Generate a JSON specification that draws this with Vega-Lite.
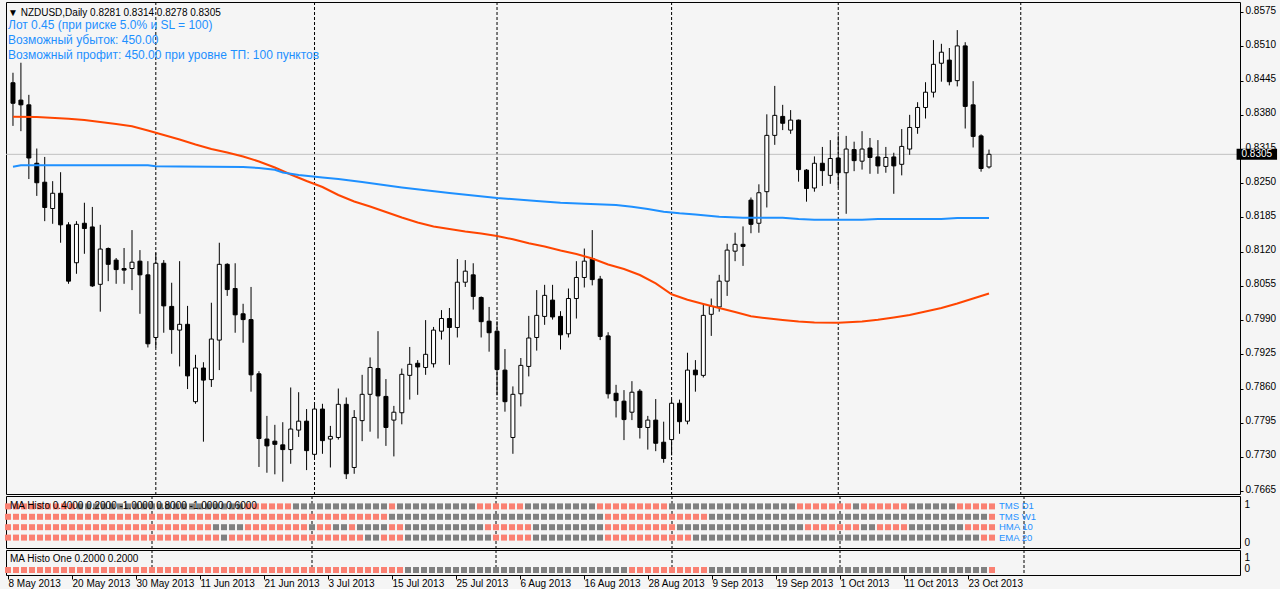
{
"$schema":"https://vega.github.io/schema/vega-lite/v6.json",
"background":"#f5f5f5",
"padding":{"left":4,"top":1,"right":0,"bottom":0},
"bounds":"flush",
"spacing":2,
"resolve":{"scale":{"color":"independent","fill":"independent"}},
"config":{
"view":{"stroke":"#000000","strokeWidth":1,"fill":"#f5f5f5"},
"axis":{"labelFont":"Liberation Sans","labelFontSize":10,"labelColor":"#000000","tickColor":"#000000","domain":false,"grid":false},
"title":{"font":"Liberation Sans","fontWeight":"normal","color":"#000000","fontSize":10,"anchor":"start","frame":"group"}
},
"datasets":{
"levels":[{"key":"d1","name":"TMS D1","level":0.8},{"key":"w1","name":"TMS W1","level":0.6},{"key":"hma","name":"HMA 10","level":0.4},{"key":"ema","name":"EMA 20","level":0.2},{"key":"one","name":"MA Histo One","level":0.2}],
"seps":[{"i":18,"date":"2013-06-03"},{"i":38,"date":"2013-07-01"},{"i":61,"date":"2013-08-01"},{"i":83,"date":"2013-09-02"},{"i":104,"date":"2013-10-01"},{"i":127,"date":"2013-11-01"}],
"ma":[
{"i":0,"s":"ma1","v":0.83765},{"i":3,"s":"ma1","v":0.83759},{"i":7,"s":"ma1","v":0.83727},{"i":9,"s":"ma1","v":0.83702},{"i":11,"s":"ma1","v":0.83664},{"i":13,"s":"ma1","v":0.83626},{"i":15,"s":"ma1","v":0.83582},{"i":17,"s":"ma1","v":0.83503},{"i":19,"s":"ma1","v":0.83417},{"i":21,"s":"ma1","v":0.83332},{"i":23,"s":"ma1","v":0.83237},{"i":25,"s":"ma1","v":0.83151},{"i":27,"s":"ma1","v":0.83085},{"i":29,"s":"ma1","v":0.83009},{"i":31,"s":"ma1","v":0.82914},{"i":33,"s":"ma1","v":0.828},{"i":35,"s":"ma1","v":0.82667},{"i":37,"s":"ma1","v":0.82543},{"i":39,"s":"ma1","v":0.82429},{"i":41,"s":"ma1","v":0.82277},{"i":43,"s":"ma1","v":0.82154},{"i":45,"s":"ma1","v":0.82059},{"i":47,"s":"ma1","v":0.81954},{"i":49,"s":"ma1","v":0.8185},{"i":51,"s":"ma1","v":0.81755},{"i":53,"s":"ma1","v":0.81679},{"i":55,"s":"ma1","v":0.81631},{"i":57,"s":"ma1","v":0.81584},{"i":59,"s":"ma1","v":0.81546},{"i":61,"s":"ma1","v":0.81498},{"i":63,"s":"ma1","v":0.81435},{"i":65,"s":"ma1","v":0.81359},{"i":67,"s":"ma1","v":0.81299},{"i":69,"s":"ma1","v":0.81223},{"i":71,"s":"ma1","v":0.81156},{"i":73,"s":"ma1","v":0.81071},{"i":75,"s":"ma1","v":0.80957},{"i":77,"s":"ma1","v":0.80871},{"i":79,"s":"ma1","v":0.80757},{"i":81,"s":"ma1","v":0.80596},{"i":83,"s":"ma1","v":0.8039},{"i":85,"s":"ma1","v":0.80288},{"i":87,"s":"ma1","v":0.80206},{"i":89,"s":"ma1","v":0.8013},{"i":91,"s":"ma1","v":0.80054},{"i":93,"s":"ma1","v":0.79972},{"i":95,"s":"ma1","v":0.79934},{"i":97,"s":"ma1","v":0.79902},{"i":99,"s":"ma1","v":0.79874},{"i":101,"s":"ma1","v":0.79855},{"i":104,"s":"ma1","v":0.79851},{"i":107,"s":"ma1","v":0.79874},{"i":109,"s":"ma1","v":0.79908},{"i":111,"s":"ma1","v":0.7995},{"i":113,"s":"ma1","v":0.79997},{"i":115,"s":"ma1","v":0.80064},{"i":117,"s":"ma1","v":0.8013},{"i":119,"s":"ma1","v":0.80216},{"i":121,"s":"ma1","v":0.80311},{"i":123,"s":"ma1","v":0.80406},
{"i":0,"s":"ma2","v":0.82815},{"i":1,"s":"ma2","v":0.82841},{"i":17,"s":"ma2","v":0.82841},{"i":18,"s":"ma2","v":0.82822},{"i":21,"s":"ma2","v":0.82819},{"i":29,"s":"ma2","v":0.82809},{"i":31,"s":"ma2","v":0.8279},{"i":33,"s":"ma2","v":0.82758},{"i":34,"s":"ma2","v":0.82705},{"i":36,"s":"ma2","v":0.82657},{"i":39,"s":"ma2","v":0.8261},{"i":41,"s":"ma2","v":0.82581},{"i":44,"s":"ma2","v":0.82524},{"i":49,"s":"ma2","v":0.8242},{"i":55,"s":"ma2","v":0.82315},{"i":61,"s":"ma2","v":0.8222},{"i":66,"s":"ma2","v":0.82163},{"i":69,"s":"ma2","v":0.82131},{"i":72,"s":"ma2","v":0.82112},{"i":76,"s":"ma2","v":0.82087},{"i":78,"s":"ma2","v":0.82055},{"i":80,"s":"ma2","v":0.82011},{"i":82,"s":"ma2","v":0.8196},{"i":84,"s":"ma2","v":0.81929},{"i":86,"s":"ma2","v":0.81907},{"i":89,"s":"ma2","v":0.81865},{"i":92,"s":"ma2","v":0.81846},{"i":97,"s":"ma2","v":0.81846},{"i":99,"s":"ma2","v":0.8182},{"i":101,"s":"ma2","v":0.81808},{"i":107,"s":"ma2","v":0.81808},{"i":109,"s":"ma2","v":0.8182},{"i":117,"s":"ma2","v":0.8182},{"i":119,"s":"ma2","v":0.8184},{"i":123,"s":"ma2","v":0.8184}
],
"bars":[
{"i":0,"date":"2013-05-08","open":0.8441,"high":0.8460,"low":0.8359,"close":0.8402,"d1":1,"w1":1,"hma":1,"ema":1,"one":1},
{"i":1,"date":"2013-05-09","open":0.8408,"high":0.8479,"low":0.8349,"close":0.8399,"d1":1,"w1":1,"hma":1,"ema":1,"one":1},
{"i":2,"date":"2013-05-10","open":0.8399,"high":0.8418,"low":0.8258,"close":0.8298,"d1":1,"w1":1,"hma":1,"ema":1,"one":1},
{"i":3,"date":"2013-05-13","open":0.8288,"high":0.8316,"low":0.8226,"close":0.8251,"d1":1,"w1":1,"hma":1,"ema":1,"one":1},
{"i":4,"date":"2013-05-14","open":0.8252,"high":0.8300,"low":0.8178,"close":0.8204,"d1":1,"w1":1,"hma":1,"ema":1,"one":1},
{"i":5,"date":"2013-05-15","open":0.8202,"high":0.8254,"low":0.8173,"close":0.8231,"d1":1,"w1":1,"hma":1,"ema":1,"one":1},
{"i":6,"date":"2013-05-16","open":0.8231,"high":0.8271,"low":0.8137,"close":0.8171,"d1":1,"w1":1,"hma":1,"ema":1,"one":1},
{"i":7,"date":"2013-05-17","open":0.8171,"high":0.8176,"low":0.8059,"close":0.8064,"d1":1,"w1":1,"hma":1,"ema":1,"one":1},
{"i":8,"date":"2013-05-20","open":0.8099,"high":0.8178,"low":0.8078,"close":0.8172,"d1":1,"w1":1,"hma":1,"ema":1,"one":1},
{"i":9,"date":"2013-05-21","open":0.8174,"high":0.8213,"low":0.8116,"close":0.8164,"d1":0,"w1":1,"hma":1,"ema":1,"one":1},
{"i":10,"date":"2013-05-22","open":0.8167,"high":0.8205,"low":0.8053,"close":0.8055,"d1":0,"w1":1,"hma":1,"ema":1,"one":1},
{"i":11,"date":"2013-05-23","open":0.8058,"high":0.8171,"low":0.8006,"close":0.8125,"d1":0,"w1":1,"hma":1,"ema":1,"one":1},
{"i":12,"date":"2013-05-24","open":0.8126,"high":0.8128,"low":0.8064,"close":0.8096,"d1":0,"w1":1,"hma":1,"ema":1,"one":1},
{"i":13,"date":"2013-05-27","open":0.8104,"high":0.8108,"low":0.8059,"close":0.8086,"d1":0,"w1":1,"hma":1,"ema":1,"one":1},
{"i":14,"date":"2013-05-28","open":0.8088,"high":0.8127,"low":0.8059,"close":0.8085,"d1":0,"w1":1,"hma":1,"ema":1,"one":1},
{"i":15,"date":"2013-05-29","open":0.8088,"high":0.8161,"low":0.8047,"close":0.8100,"d1":0,"w1":1,"hma":1,"ema":1,"one":1},
{"i":16,"date":"2013-05-30","open":0.8102,"high":0.8123,"low":0.8002,"close":0.8076,"d1":0,"w1":1,"hma":1,"ema":1,"one":1},
{"i":17,"date":"2013-05-31","open":0.8076,"high":0.8102,"low":0.7938,"close":0.7945,"d1":0,"w1":1,"hma":1,"ema":1,"one":1},
{"i":18,"date":"2013-06-03","open":0.7957,"high":0.8118,"low":0.7938,"close":0.8098,"d1":0,"w1":1,"hma":1,"ema":1,"one":1},
{"i":19,"date":"2013-06-04","open":0.8098,"high":0.8104,"low":0.7966,"close":0.8017,"d1":0,"w1":1,"hma":1,"ema":1,"one":1},
{"i":20,"date":"2013-06-05","open":0.8016,"high":0.8061,"low":0.7926,"close":0.7972,"d1":0,"w1":1,"hma":1,"ema":1,"one":1},
{"i":21,"date":"2013-06-06","open":0.7971,"high":0.8102,"low":0.7902,"close":0.7982,"d1":0,"w1":1,"hma":1,"ema":1,"one":1},
{"i":22,"date":"2013-06-07","open":0.7982,"high":0.8017,"low":0.7859,"close":0.7884,"d1":0,"w1":1,"hma":1,"ema":1,"one":1},
{"i":23,"date":"2013-06-10","open":0.7835,"high":0.7924,"low":0.7831,"close":0.7899,"d1":0,"w1":1,"hma":1,"ema":1,"one":1},
{"i":24,"date":"2013-06-11","open":0.7899,"high":0.7910,"low":0.7759,"close":0.7876,"d1":0,"w1":1,"hma":1,"ema":1,"one":1},
{"i":25,"date":"2013-06-12","open":0.7877,"high":0.8023,"low":0.7863,"close":0.7954,"d1":0,"w1":1,"hma":1,"ema":1,"one":1},
{"i":26,"date":"2013-06-13","open":0.7952,"high":0.8137,"low":0.7895,"close":0.8096,"d1":0,"w1":1,"hma":0,"ema":1,"one":1},
{"i":27,"date":"2013-06-14","open":0.8096,"high":0.8098,"low":0.8036,"close":0.8048,"d1":0,"w1":1,"hma":0,"ema":0,"one":1},
{"i":28,"date":"2013-06-17","open":0.8050,"high":0.8098,"low":0.7966,"close":0.8000,"d1":0,"w1":1,"hma":0,"ema":1,"one":1},
{"i":29,"date":"2013-06-18","open":0.8002,"high":0.8021,"low":0.7947,"close":0.7991,"d1":0,"w1":1,"hma":0,"ema":1,"one":1},
{"i":30,"date":"2013-06-19","open":0.7991,"high":0.8053,"low":0.7854,"close":0.7886,"d1":1,"w1":1,"hma":1,"ema":1,"one":1},
{"i":31,"date":"2013-06-20","open":0.7888,"high":0.7893,"low":0.7711,"close":0.7765,"d1":1,"w1":1,"hma":1,"ema":1,"one":1},
{"i":32,"date":"2013-06-21","open":0.7764,"high":0.7808,"low":0.7700,"close":0.7751,"d1":1,"w1":1,"hma":1,"ema":1,"one":1},
{"i":33,"date":"2013-06-24","open":0.7760,"high":0.7791,"low":0.7697,"close":0.7754,"d1":1,"w1":1,"hma":1,"ema":1,"one":1},
{"i":34,"date":"2013-06-25","open":0.7753,"high":0.7796,"low":0.7683,"close":0.7744,"d1":1,"w1":1,"hma":1,"ema":1,"one":1},
{"i":35,"date":"2013-06-26","open":0.7744,"high":0.7862,"low":0.7717,"close":0.7783,"d1":1,"w1":1,"hma":1,"ema":1,"one":1},
{"i":36,"date":"2013-06-27","open":0.7781,"high":0.7853,"low":0.7768,"close":0.7798,"d1":0,"w1":1,"hma":1,"ema":1,"one":1},
{"i":37,"date":"2013-06-28","open":0.7798,"high":0.7821,"low":0.7705,"close":0.7742,"d1":0,"w1":1,"hma":1,"ema":1,"one":1},
{"i":38,"date":"2013-07-01","open":0.7735,"high":0.7831,"low":0.7730,"close":0.7821,"d1":0,"w1":1,"hma":0,"ema":1,"one":1},
{"i":39,"date":"2013-07-02","open":0.7821,"high":0.7831,"low":0.7736,"close":0.7761,"d1":0,"w1":1,"hma":1,"ema":1,"one":1},
{"i":40,"date":"2013-07-03","open":0.7764,"high":0.7789,"low":0.7710,"close":0.7769,"d1":0,"w1":1,"hma":1,"ema":1,"one":1},
{"i":41,"date":"2013-07-04","open":0.7767,"high":0.7860,"low":0.7763,"close":0.7830,"d1":0,"w1":1,"hma":0,"ema":1,"one":1},
{"i":42,"date":"2013-07-05","open":0.7830,"high":0.7843,"low":0.7688,"close":0.7698,"d1":0,"w1":1,"hma":0,"ema":1,"one":1},
{"i":43,"date":"2013-07-08","open":0.7710,"high":0.7819,"low":0.7698,"close":0.7805,"d1":0,"w1":1,"hma":1,"ema":1,"one":1},
{"i":44,"date":"2013-07-09","open":0.7799,"high":0.7886,"low":0.7760,"close":0.7849,"d1":0,"w1":1,"hma":0,"ema":1,"one":1},
{"i":45,"date":"2013-07-10","open":0.7849,"high":0.7919,"low":0.7778,"close":0.7900,"d1":0,"w1":1,"hma":0,"ema":0,"one":1},
{"i":46,"date":"2013-07-11","open":0.7898,"high":0.7969,"low":0.7765,"close":0.7846,"d1":0,"w1":1,"hma":0,"ema":0,"one":1},
{"i":47,"date":"2013-07-12","open":0.7845,"high":0.7878,"low":0.7751,"close":0.7786,"d1":0,"w1":1,"hma":0,"ema":1,"one":1},
{"i":48,"date":"2013-07-15","open":0.7800,"high":0.7827,"low":0.7731,"close":0.7815,"d1":1,"w1":0,"hma":1,"ema":1,"one":1},
{"i":49,"date":"2013-07-16","open":0.7814,"high":0.7898,"low":0.7792,"close":0.7887,"d1":0,"w1":0,"hma":1,"ema":1,"one":1},
{"i":50,"date":"2013-07-17","open":0.7885,"high":0.7939,"low":0.7839,"close":0.7906,"d1":0,"w1":0,"hma":0,"ema":0,"one":0},
{"i":51,"date":"2013-07-18","open":0.7908,"high":0.7914,"low":0.7848,"close":0.7901,"d1":0,"w1":0,"hma":0,"ema":0,"one":0},
{"i":52,"date":"2013-07-19","open":0.7900,"high":0.7990,"low":0.7886,"close":0.7925,"d1":0,"w1":0,"hma":0,"ema":0,"one":0},
{"i":53,"date":"2013-07-22","open":0.7907,"high":0.7977,"low":0.7900,"close":0.7971,"d1":0,"w1":0,"hma":0,"ema":0,"one":0},
{"i":54,"date":"2013-07-23","open":0.7969,"high":0.8009,"low":0.7953,"close":0.7993,"d1":0,"w1":0,"hma":0,"ema":0,"one":0},
{"i":55,"date":"2013-07-24","open":0.7993,"high":0.8013,"low":0.7905,"close":0.7976,"d1":0,"w1":0,"hma":0,"ema":0,"one":0},
{"i":56,"date":"2013-07-25","open":0.7976,"high":0.8106,"low":0.7957,"close":0.8062,"d1":0,"w1":0,"hma":0,"ema":0,"one":0},
{"i":57,"date":"2013-07-26","open":0.8062,"high":0.8104,"low":0.8053,"close":0.8083,"d1":0,"w1":0,"hma":0,"ema":0,"one":0},
{"i":58,"date":"2013-07-29","open":0.8076,"high":0.8098,"low":0.8010,"close":0.8035,"d1":0,"w1":0,"hma":0,"ema":0,"one":0},
{"i":59,"date":"2013-07-30","open":0.8033,"high":0.8035,"low":0.7957,"close":0.7987,"d1":1,"w1":0,"hma":0,"ema":0,"one":0},
{"i":60,"date":"2013-07-31","open":0.7988,"high":0.8015,"low":0.7930,"close":0.7966,"d1":1,"w1":0,"hma":1,"ema":0,"one":0},
{"i":61,"date":"2013-08-01","open":0.7969,"high":0.7988,"low":0.7847,"close":0.7896,"d1":1,"w1":0,"hma":1,"ema":1,"one":0},
{"i":62,"date":"2013-08-02","open":0.7895,"high":0.7935,"low":0.7816,"close":0.7835,"d1":1,"w1":0,"hma":1,"ema":1,"one":0},
{"i":63,"date":"2013-08-05","open":0.7767,"high":0.7864,"low":0.7736,"close":0.7849,"d1":1,"w1":0,"hma":1,"ema":1,"one":0},
{"i":64,"date":"2013-08-06","open":0.7850,"high":0.7918,"low":0.7826,"close":0.7904,"d1":1,"w1":0,"hma":1,"ema":1,"one":0},
{"i":65,"date":"2013-08-07","open":0.7902,"high":0.7998,"low":0.7883,"close":0.7956,"d1":0,"w1":0,"hma":1,"ema":1,"one":0},
{"i":66,"date":"2013-08-08","open":0.7957,"high":0.8047,"low":0.7932,"close":0.7999,"d1":0,"w1":0,"hma":0,"ema":0,"one":0},
{"i":67,"date":"2013-08-09","open":0.7997,"high":0.8057,"low":0.7981,"close":0.8037,"d1":0,"w1":0,"hma":0,"ema":0,"one":0},
{"i":68,"date":"2013-08-12","open":0.8028,"high":0.8057,"low":0.7991,"close":0.7996,"d1":0,"w1":0,"hma":0,"ema":0,"one":0},
{"i":69,"date":"2013-08-13","open":0.7997,"high":0.8007,"low":0.7934,"close":0.7962,"d1":0,"w1":0,"hma":0,"ema":0,"one":0},
{"i":70,"date":"2013-08-14","open":0.7964,"high":0.8050,"low":0.7957,"close":0.8031,"d1":0,"w1":0,"hma":0,"ema":0,"one":0},
{"i":71,"date":"2013-08-15","open":0.8031,"high":0.8102,"low":0.7993,"close":0.8071,"d1":0,"w1":0,"hma":0,"ema":0,"one":0},
{"i":72,"date":"2013-08-16","open":0.8071,"high":0.8126,"low":0.8052,"close":0.8102,"d1":0,"w1":0,"hma":0,"ema":0,"one":0},
{"i":73,"date":"2013-08-19","open":0.8107,"high":0.8161,"low":0.8056,"close":0.8067,"d1":0,"w1":0,"hma":0,"ema":0,"one":0},
{"i":74,"date":"2013-08-20","open":0.8068,"high":0.8074,"low":0.7952,"close":0.7959,"d1":1,"w1":0,"hma":0,"ema":0,"one":0},
{"i":75,"date":"2013-08-21","open":0.7960,"high":0.7967,"low":0.7841,"close":0.7850,"d1":1,"w1":1,"hma":1,"ema":1,"one":0},
{"i":76,"date":"2013-08-22","open":0.7851,"high":0.7867,"low":0.7805,"close":0.7837,"d1":1,"w1":1,"hma":1,"ema":1,"one":0},
{"i":77,"date":"2013-08-23","open":0.7836,"high":0.7857,"low":0.7762,"close":0.7801,"d1":1,"w1":1,"hma":1,"ema":1,"one":0},
{"i":78,"date":"2013-08-26","open":0.7815,"high":0.7874,"low":0.7800,"close":0.7853,"d1":1,"w1":1,"hma":1,"ema":1,"one":1},
{"i":79,"date":"2013-08-27","open":0.7855,"high":0.7859,"low":0.7765,"close":0.7786,"d1":1,"w1":1,"hma":1,"ema":1,"one":1},
{"i":80,"date":"2013-08-28","open":0.7786,"high":0.7808,"low":0.7744,"close":0.7800,"d1":1,"w1":1,"hma":1,"ema":1,"one":1},
{"i":81,"date":"2013-08-29","open":0.7800,"high":0.7840,"low":0.7741,"close":0.7756,"d1":1,"w1":1,"hma":1,"ema":1,"one":1},
{"i":82,"date":"2013-08-30","open":0.7758,"high":0.7797,"low":0.7719,"close":0.7727,"d1":1,"w1":1,"hma":1,"ema":1,"one":1},
{"i":83,"date":"2013-09-02","open":0.7763,"high":0.7839,"low":0.7733,"close":0.7832,"d1":0,"w1":1,"hma":1,"ema":1,"one":1},
{"i":84,"date":"2013-09-03","open":0.7832,"high":0.7839,"low":0.7774,"close":0.7797,"d1":0,"w1":1,"hma":0,"ema":1,"one":1},
{"i":85,"date":"2013-09-04","open":0.7798,"high":0.7928,"low":0.7792,"close":0.7895,"d1":0,"w1":1,"hma":0,"ema":1,"one":1},
{"i":86,"date":"2013-09-05","open":0.7895,"high":0.7914,"low":0.7854,"close":0.7886,"d1":0,"w1":1,"hma":0,"ema":0,"one":1},
{"i":87,"date":"2013-09-06","open":0.7885,"high":0.8021,"low":0.7881,"close":0.7999,"d1":0,"w1":1,"hma":0,"ema":0,"one":1},
{"i":88,"date":"2013-09-09","open":0.8001,"high":0.8031,"low":0.7960,"close":0.8016,"d1":0,"w1":0,"hma":0,"ema":0,"one":0},
{"i":89,"date":"2013-09-10","open":0.8015,"high":0.8076,"low":0.8006,"close":0.8064,"d1":0,"w1":0,"hma":0,"ema":0,"one":0},
{"i":90,"date":"2013-09-11","open":0.8064,"high":0.8135,"low":0.8036,"close":0.8123,"d1":0,"w1":0,"hma":0,"ema":0,"one":0},
{"i":91,"date":"2013-09-12","open":0.8121,"high":0.8156,"low":0.8102,"close":0.8134,"d1":0,"w1":0,"hma":0,"ema":0,"one":0},
{"i":92,"date":"2013-09-13","open":0.8134,"high":0.8168,"low":0.8093,"close":0.8130,"d1":0,"w1":0,"hma":0,"ema":0,"one":0},
{"i":93,"date":"2013-09-16","open":0.8218,"high":0.8223,"low":0.8155,"close":0.8172,"d1":0,"w1":0,"hma":0,"ema":0,"one":0},
{"i":94,"date":"2013-09-17","open":0.8174,"high":0.8248,"low":0.8156,"close":0.8232,"d1":0,"w1":0,"hma":0,"ema":0,"one":0},
{"i":95,"date":"2013-09-18","open":0.8234,"high":0.8381,"low":0.8204,"close":0.8341,"d1":0,"w1":0,"hma":0,"ema":0,"one":0},
{"i":96,"date":"2013-09-19","open":0.8341,"high":0.8435,"low":0.8323,"close":0.8379,"d1":0,"w1":0,"hma":0,"ema":0,"one":0},
{"i":97,"date":"2013-09-20","open":0.8377,"high":0.8399,"low":0.8351,"close":0.8364,"d1":0,"w1":0,"hma":0,"ema":0,"one":0},
{"i":98,"date":"2013-09-23","open":0.8351,"high":0.8389,"low":0.8344,"close":0.8370,"d1":0,"w1":0,"hma":0,"ema":0,"one":0},
{"i":99,"date":"2013-09-24","open":0.8370,"high":0.8371,"low":0.8253,"close":0.8276,"d1":1,"w1":0,"hma":0,"ema":0,"one":0},
{"i":100,"date":"2013-09-25","open":0.8275,"high":0.8277,"low":0.8215,"close":0.8240,"d1":1,"w1":0,"hma":1,"ema":0,"one":0},
{"i":101,"date":"2013-09-26","open":0.8241,"high":0.8301,"low":0.8234,"close":0.8288,"d1":1,"w1":0,"hma":1,"ema":0,"one":0},
{"i":102,"date":"2013-09-27","open":0.8288,"high":0.8319,"low":0.8245,"close":0.8274,"d1":1,"w1":0,"hma":1,"ema":0,"one":0},
{"i":103,"date":"2013-09-30","open":0.8265,"high":0.8332,"low":0.8249,"close":0.8297,"d1":1,"w1":0,"hma":1,"ema":0,"one":0},
{"i":104,"date":"2013-10-01","open":0.8298,"high":0.8341,"low":0.8242,"close":0.8270,"d1":1,"w1":0,"hma":1,"ema":0,"one":0},
{"i":105,"date":"2013-10-02","open":0.8270,"high":0.8340,"low":0.8192,"close":0.8315,"d1":1,"w1":0,"hma":1,"ema":0,"one":0},
{"i":106,"date":"2013-10-03","open":0.8314,"high":0.8329,"low":0.8273,"close":0.8293,"d1":0,"w1":0,"hma":1,"ema":0,"one":0},
{"i":107,"date":"2013-10-04","open":0.8292,"high":0.8349,"low":0.8276,"close":0.8315,"d1":1,"w1":0,"hma":0,"ema":0,"one":0},
{"i":108,"date":"2013-10-07","open":0.8317,"high":0.8336,"low":0.8268,"close":0.8299,"d1":1,"w1":0,"hma":0,"ema":0,"one":0},
{"i":109,"date":"2013-10-08","open":0.8300,"high":0.8332,"low":0.8268,"close":0.8283,"d1":1,"w1":0,"hma":1,"ema":0,"one":0},
{"i":110,"date":"2013-10-09","open":0.8282,"high":0.8319,"low":0.8270,"close":0.8299,"d1":1,"w1":0,"hma":1,"ema":0,"one":0},
{"i":111,"date":"2013-10-10","open":0.8300,"high":0.8308,"low":0.8230,"close":0.8283,"d1":1,"w1":0,"hma":1,"ema":0,"one":0},
{"i":112,"date":"2013-10-11","open":0.8286,"high":0.8353,"low":0.8265,"close":0.8320,"d1":1,"w1":0,"hma":1,"ema":0,"one":0},
{"i":113,"date":"2013-10-14","open":0.8315,"high":0.8380,"low":0.8304,"close":0.8356,"d1":0,"w1":0,"hma":0,"ema":0,"one":0},
{"i":114,"date":"2013-10-15","open":0.8356,"high":0.8404,"low":0.8344,"close":0.8394,"d1":0,"w1":0,"hma":0,"ema":0,"one":0},
{"i":115,"date":"2013-10-16","open":0.8394,"high":0.8442,"low":0.8373,"close":0.8423,"d1":0,"w1":0,"hma":0,"ema":0,"one":0},
{"i":116,"date":"2013-10-17","open":0.8423,"high":0.8522,"low":0.8413,"close":0.8476,"d1":0,"w1":0,"hma":0,"ema":0,"one":0},
{"i":117,"date":"2013-10-18","open":0.8478,"high":0.8515,"low":0.8443,"close":0.8499,"d1":0,"w1":0,"hma":0,"ema":0,"one":0},
{"i":118,"date":"2013-10-21","open":0.8484,"high":0.8507,"low":0.8436,"close":0.8443,"d1":0,"w1":0,"hma":0,"ema":0,"one":0},
{"i":119,"date":"2013-10-22","open":0.8445,"high":0.8541,"low":0.8434,"close":0.8511,"d1":1,"w1":0,"hma":0,"ema":0,"one":0},
{"i":120,"date":"2013-10-23","open":0.8511,"high":0.8518,"low":0.8354,"close":0.8396,"d1":1,"w1":0,"hma":1,"ema":0,"one":0},
{"i":121,"date":"2013-10-24","open":0.8399,"high":0.8444,"low":0.8318,"close":0.8339,"d1":1,"w1":0,"hma":1,"ema":0,"one":0},
{"i":122,"date":"2013-10-25","open":0.8340,"high":0.8343,"low":0.8272,"close":0.8278,"d1":1,"w1":0,"hma":1,"ema":1,"one":0},
{"i":123,"date":"2013-10-28","open":0.8281,"high":0.8314,"low":0.8278,"close":0.8305,"d1":1,"w1":1,"hma":1,"ema":1,"one":1}
]
},
"vconcat":[
{
"width":1234,"height":492,
"title":{"text":"▼ NZDUSD,Daily  0.8281 0.8314 0.8278 0.8305","subtitle":["Лот 0.45 (при риске 5.0% и SL = 100)","Возможный убыток: 450.00","Возможный профит: 450.00 при уровне ТП: 100 пунктов"],"offset":-59,"dx":2,"subtitleColor":"#1E90FF","subtitleFont":"Liberation Sans","subtitleFontSize":12,"subtitleLineHeight":15,"subtitlePadding":2},
"layer":[
{"data":{"name":"seps"},"mark":{"type":"rule","strokeDash":[3,2],"color":"#000000","strokeWidth":1},
"encoding":{"x":{"field":"i","type":"quantitative","scale":{"domain":[-0.25,154],"nice":false,"zero":false},"axis":null}}},
{"data":{"name":"bars"},"transform":[{"filter":"datum.i == 123"}],"mark":{"type":"rule","color":"#c0c0c0","strokeWidth":1},
"encoding":{"y":{"field":"close","type":"quantitative","scale":{"domain":[0.76596,0.85944],"nice":false,"zero":false},
"axis":{"orient":"right","values":[0.7665,0.773,0.7795,0.786,0.7925,0.799,0.8055,0.812,0.8185,0.825,0.8315,0.838,0.8445,0.851,0.8575],"format":".4f","labelOffset":-2,"tickSize":3,"labelPadding":2,"title":null}}}},
{"data":{"name":"bars"},"mark":{"type":"rule","color":"#000000","strokeWidth":1},
"encoding":{"x":{"field":"i","type":"quantitative","scale":{"domain":[-0.25,154],"nice":false,"zero":false},"axis":null},
"y":{"field":"low","type":"quantitative","axis":{"orient":"right","values":[0.7665,0.773,0.7795,0.786,0.7925,0.799,0.8055,0.812,0.8185,0.825,0.8315,0.838,0.8445,0.851,0.8575],"format":".4f","labelOffset":-2,"tickSize":3,"labelPadding":2,"title":null}},"y2":{"field":"high"}}},
{"data":{"name":"bars"},"mark":{"type":"bar","size":4,"stroke":"#000000","strokeWidth":1},
"encoding":{"x":{"field":"i","type":"quantitative","axis":null},
"y":{"field":"open","type":"quantitative","axis":{"orient":"right","values":[0.7665,0.773,0.7795,0.786,0.7925,0.799,0.8055,0.812,0.8185,0.825,0.8315,0.838,0.8445,0.851,0.8575],"format":".4f","labelOffset":-2,"tickSize":3,"labelPadding":2,"title":null}},"y2":{"field":"close"},
"fill":{"condition":{"test":"datum.close < datum.open","value":"#000000"},"value":"#ffffff"}}},
{"data":{"name":"ma"},"mark":{"type":"line","strokeWidth":2},
"encoding":{"x":{"field":"i","type":"quantitative","axis":null},"y":{"field":"v","type":"quantitative","axis":{"orient":"right","values":[0.7665,0.773,0.7795,0.786,0.7925,0.799,0.8055,0.812,0.8185,0.825,0.8315,0.838,0.8445,0.851,0.8575],"format":".4f","labelOffset":-2,"tickSize":3,"labelPadding":2,"title":null}},
"color":{"field":"s","type":"nominal","scale":{"domain":["ma1","ma2"],"range":["#FF4500","#1E90FF"]},"legend":null}}},
{"data":{"name":"bars"},"transform":[{"filter":"datum.i == 123"}],"mark":{"type":"rule","color":"#000000","strokeWidth":11},
"encoding":{"x":{"datum":154.2,"type":"quantitative","axis":null},"x2":{"datum":159.3},"y":{"field":"close","type":"quantitative","axis":{"orient":"right","values":[0.7665,0.773,0.7795,0.786,0.7925,0.799,0.8055,0.812,0.8185,0.825,0.8315,0.838,0.8445,0.851,0.8575],"format":".4f","labelOffset":-2,"tickSize":3,"labelPadding":2,"title":null}}}},
{"data":{"name":"bars"},"transform":[{"filter":"datum.i == 123"}],"mark":{"type":"text","color":"#ffffff","font":"Liberation Sans","fontSize":10,"align":"center","baseline":"middle"},
"encoding":{"x":{"datum":156.75,"type":"quantitative","axis":null},"y":{"field":"close","type":"quantitative","axis":{"orient":"right","values":[0.7665,0.773,0.7795,0.786,0.7925,0.799,0.8055,0.812,0.8185,0.825,0.8315,0.838,0.8445,0.851,0.8575],"format":".4f","labelOffset":-2,"tickSize":3,"labelPadding":2,"title":null}},"text":{"field":"close","type":"quantitative","format":".4f"}}}
]
},
{
"width":1234,"height":52,
"title":{"text":"MA Histo 0.4000 0.2000 -1.0000 0.8000 -1.0000 0.6000","offset":-15,"dx":4},
"layer":[
{"data":{"name":"seps"},"mark":{"type":"rule","strokeDash":[3,2],"color":"#000000","strokeWidth":1},
"encoding":{"x":{"field":"i","type":"quantitative","scale":{"domain":[-0.25,154],"nice":false,"zero":false},"axis":null}}},
{"data":{"name":"bars"},"transform":[{"fold":["d1","w1","hma","ema","one"],"as":["key","state"]},{"filter":"datum.key != 'one'"},{"lookup":"key","from":{"data":{"name":"levels"},"key":"key","fields":["level","name"]}}],
"mark":{"type":"square","size":36,"opacity":1,"filled":true},
"encoding":{"x":{"field":"i","type":"quantitative","scale":{"domain":[-0.25,154],"nice":false,"zero":false},"axis":null},
"y":{"field":"level","type":"quantitative","scale":{"domain":[0,1],"nice":false,"zero":false},"axis":{"orient":"right","values":[0.846,0.115],"labelExpr":"datum.value > 0.5 ? '1' : '0'","ticks":false,"labelPadding":4,"title":null}},
"fill":{"field":"state","type":"nominal","scale":{"domain":[1,0],"range":["#FA8072","#808080"]},"legend":null}}},
{"data":{"name":"bars"},"transform":[{"filter":"datum.i == 123"},{"fold":["d1","w1","hma","ema"],"as":["key","state"]},{"lookup":"key","from":{"data":{"name":"levels"},"key":"key","fields":["level","name"]}}],
"mark":{"type":"text","align":"left","dx":7,"color":"#1E90FF","font":"Liberation Sans","fontSize":9.5,"baseline":"middle"},
"encoding":{"x":{"field":"i","type":"quantitative","axis":null},"y":{"field":"level","type":"quantitative","axis":{"orient":"right","values":[0.846,0.115],"labelExpr":"datum.value > 0.5 ? '1' : '0'","ticks":false,"labelPadding":4,"title":null}},"text":{"field":"name"}}}
]
},
{
"width":1234,"height":25,
"title":{"text":"MA Histo One 0.2000 0.2000","offset":-14,"dx":4},
"layer":[
{"data":{"name":"seps"},"mark":{"type":"rule","strokeDash":[3,2],"color":"#000000","strokeWidth":1},
"encoding":{"x":{"field":"i","type":"quantitative","scale":{"domain":[-0.25,154],"nice":false,"zero":false},
"axis":{"orient":"bottom","values":[0,8,16,24,32,40,48,56,64,72,80,88,96,104,112,120],"labelExpr":"['8 May 2013','20 May 2013','30 May 2013','11 Jun 2013','21 Jun 2013','3 Jul 2013','15 Jul 2013','25 Jul 2013','6 Aug 2013','16 Aug 2013','28 Aug 2013','9 Sep 2013','19 Sep 2013','1 Oct 2013','11 Oct 2013','23 Oct 2013'][round(datum.value/8)]","labelAlign":"left","labelBaseline":"top","labelFontSize":10,"tickSize":4,"labelPadding":-1,"labelFlush":false,"labelOverlap":false,"labelBound":false,"title":null}}}},
{"data":{"name":"bars"},"transform":[{"fold":["one"],"as":["key","state"]},{"lookup":"key","from":{"data":{"name":"levels"},"key":"key","fields":["level","name"]}}],
"mark":{"type":"square","size":36,"opacity":1,"filled":true},
"encoding":{"x":{"field":"i","type":"quantitative","scale":{"domain":[-0.25,154],"nice":false,"zero":false},
"axis":{"orient":"bottom","values":[0,8,16,24,32,40,48,56,64,72,80,88,96,104,112,120],"labelExpr":"['8 May 2013','20 May 2013','30 May 2013','11 Jun 2013','21 Jun 2013','3 Jul 2013','15 Jul 2013','25 Jul 2013','6 Aug 2013','16 Aug 2013','28 Aug 2013','9 Sep 2013','19 Sep 2013','1 Oct 2013','11 Oct 2013','23 Oct 2013'][round(datum.value/8)]","labelAlign":"left","labelBaseline":"top","labelFontSize":10,"tickSize":4,"labelPadding":-1,"labelFlush":false,"labelOverlap":false,"labelBound":false,"title":null}},
"y":{"field":"level","type":"quantitative","scale":{"domain":[0,1],"nice":false,"zero":false},"axis":{"orient":"right","values":[0.72,0.28],"labelExpr":"datum.value > 0.5 ? '1' : '0'","ticks":false,"labelPadding":4,"title":null}},
"fill":{"field":"state","type":"nominal","scale":{"domain":[1,0],"range":["#FA8072","#808080"]},"legend":null}}}
]
}
]
}
